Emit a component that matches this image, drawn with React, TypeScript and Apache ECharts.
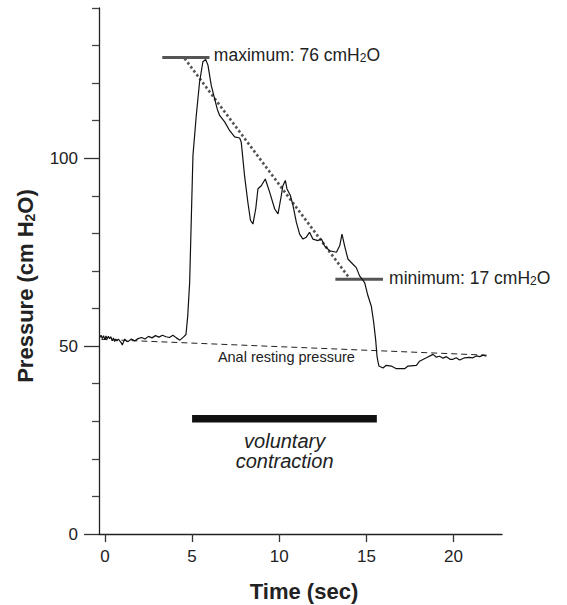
import React, { useEffect, useRef } from "react";
import * as echarts from "echarts";

// ---- Data ----
const timeSec = [
  -0.3, -0.22, -0.15, -0.08, 0.0, 0.06, 0.12, 0.2, 0.27, 0.34, 0.42, 0.49, 0.56, 0.62, 0.69, 0.77, 0.85,
  0.92, 1.0, 1.07, 1.14, 1.24, 1.33, 1.42, 1.52, 1.7, 1.9, 2.1, 2.3, 2.5, 2.7,
  2.9, 3.1, 3.3, 3.5, 3.7, 3.9, 4.1, 4.3, 4.5, 4.65, 4.75, 4.86, 4.96, 5.05, 5.24, 5.43, 5.62, 5.78, 5.91,
  6.1, 6.29, 6.45, 6.58, 6.87, 7.15, 7.44, 7.73, 7.82, 8.01, 8.2, 8.35, 8.49, 8.65, 8.78, 8.97, 9.2, 9.45,
  9.74, 9.93, 10.12, 10.21, 10.35, 10.44, 10.64, 10.79, 10.98, 11.17, 11.36, 11.55, 11.74, 11.93, 12.22,
  12.42, 12.6, 12.89, 13.28, 13.47, 13.6, 13.75, 13.94, 14.23, 14.42, 14.61, 14.9, 15.09, 15.28, 15.42,
  15.53, 15.61, 15.66, 15.72, 15.95, 16.14, 16.43, 16.72, 17.19, 17.39, 17.87, 18.05, 18.44, 18.82, 19.0,
  19.2, 19.4, 19.59, 19.8, 19.97, 20.15, 20.35, 20.64, 20.9, 21.11, 21.3, 21.5, 21.7, 21.88,
];
const pressure = [
  52.3, 52.9, 52.0, 52.8, 51.7, 52.7, 51.9, 52.6, 52.0, 52.5, 51.4, 52.2, 51.2, 51.9, 51.4, 51.9, 51.4,
  51.0, 50.3, 51.2, 51.9, 51.3, 51.2, 51.6, 51.9, 51.4, 52.0, 52.3, 51.9, 52.6, 52.2,
  52.8, 52.4, 52.9, 52.5, 52.3, 52.9, 52.2, 51.6, 52.4, 53.1, 58.0, 66.9, 84.7, 100.7, 111.4,
  120.3, 125.7, 126.3, 124.8, 119.4, 115.9, 113.0, 111.4, 109.7, 107.4, 105.7, 105.4, 104.3, 95.4, 88.3,
  83.5, 82.5, 86.5, 91.9, 92.7, 94.5, 91.0, 86.5, 85.2, 90.1, 92.7, 94.1, 91.9, 90.1, 87.4, 83.0, 79.8,
  78.5, 79.0, 80.3, 78.5, 78.1, 78.5, 76.7, 75.4, 75.0, 76.7, 79.8, 76.7, 73.2, 71.8, 70.9, 68.7, 66.9,
  63.4, 60.7, 56.3, 51.8, 47.3, 46.0, 44.7, 44.2, 44.9, 44.7, 44.0, 44.0, 44.7, 44.9, 46.0, 46.9, 47.8,
  47.1, 47.3, 46.8, 47.2, 46.5, 46.5, 46.9, 46.3, 46.9, 47.0, 46.9, 47.4, 47.2, 47.6, 47.3,
];

const xTickValues = [0, 5, 10, 15, 20];
const yMajorTicks = [0, 50, 100];
const yMinorTicks = [10, 20, 30, 40, 60, 70, 80, 90, 110, 120, 130, 140];

const maxLineX = [3.29, 6.0];
const maxLineY = [126.8, 126.8];
const minLineX = [13.22, 15.95];
const minLineY = [67.8, 67.8];
const slopeLineX = [4.57, 14.04];
const slopeLineY = [126.6, 68.0];
const restingLineX = [-0.2, 21.9];
const restingLineY = [51.8, 47.6];
const contractionX = [5.0, 15.6];
const contractionY = [30.7, 30.7];

const maxLabelPos = [6.25, 127.7];
const minLabelPos = [16.3, 68.4];
const restingLabelPos = [10.41, 47.0];
const contractionLabelPos = [10.31, 22.0];

const FONT = "'Liberation Sans', Arial, Helvetica, sans-serif";
const TEXT = "#222";

const zip = (xs: number[], ys: number[]) => xs.map((x, i) => [x, ys[i]]);

export default function App() {
  const ref = useRef<HTMLDivElement>(null);

  useEffect(() => {
    if (!ref.current) return;
    const chart = echarts.init(ref.current, null, { renderer: "svg" });
    const gridLeft = 99;
    const gridTop = 8;
    const gridWidth = 403;
    const gridHeight = 526;

    const lineSeries = (data: number[][], lineStyle: any, z = 2) => ({
      type: "line",
      data,
      showSymbol: false,
      symbol: "none",
      silent: true,
      z,
      lineStyle,
    });

    chart.setOption({
      animation: false,
      backgroundColor: "#fff",
      grid: { left: gridLeft, top: gridTop, width: gridWidth, height: gridHeight },
      xAxis: {
        type: "value",
        min: -0.34,
        max: 22.78,
        axisLine: { show: true, onZero: false, lineStyle: { color: "#222", width: 1.3 } },
        axisTick: { show: true, length: 8, customValues: xTickValues, lineStyle: { color: "#333", width: 1.3 } },
        axisLabel: {
          customValues: xTickValues,
          margin: 14,
          fontSize: 17,
          fontFamily: FONT,
          color: TEXT,
        },
        splitLine: { show: false },
      },
      yAxis: [
        {
          type: "value",
          min: 0,
          max: 140,
          position: "left",
          axisLine: { show: true, onZero: false, lineStyle: { color: "#222", width: 1.3 } },
          axisTick: { show: true, length: 15, customValues: yMajorTicks, lineStyle: { color: "#333", width: 1.3 } },
          axisLabel: { customValues: yMajorTicks, margin: 21, fontSize: 17, fontFamily: FONT, color: TEXT },
          splitLine: { show: false },
        },
        {
          type: "value",
          min: 0,
          max: 140,
          position: "left",
          offset: 0,
          axisLine: { show: false, onZero: false },
          axisTick: { show: true, length: 7, customValues: yMinorTicks, lineStyle: { color: "#444", width: 1.3 } },
          axisLabel: { show: false },
          splitLine: { show: false },
        },
      ],
      series: [
        lineSeries(zip(restingLineX, restingLineY), { color: "#222", width: 1, type: [6, 4] }, 2),
        lineSeries(zip(slopeLineX, slopeLineY), { color: "#555", width: 2.6, type: [2.5, 2.5] }, 2),
        lineSeries(zip(maxLineX, maxLineY), { color: "#555", width: 3 }, 2),
        lineSeries(zip(minLineX, minLineY), { color: "#555", width: 3 }, 2),
        lineSeries(zip(contractionX, contractionY), { color: "#111", width: 7.5 }, 2),
        lineSeries(zip(timeSec, pressure), { color: "#111", width: 1.2 }, 4),
      ],
    });

    const px = (p: number[]) => chart.convertToPixel({ xAxisIndex: 0, yAxisIndex: 0 }, p) as number[];
    const maxP = px(maxLabelPos);
    const minP = px(minLabelPos);
    const restP = px(restingLabelPos);
    const conP = px(contractionLabelPos);

    const subRich = (size: number, subSize: number, weight: string) => ({
      a: { fontSize: size, fontFamily: FONT, fontWeight: weight, fill: TEXT, color: TEXT, lineHeight: size + 3, verticalAlign: "bottom" },
      s: { fontSize: subSize, fontFamily: FONT, fontWeight: weight, fill: TEXT, color: TEXT, lineHeight: Math.round(size * 0.4), verticalAlign: "bottom" },
    });

    chart.setOption({
      graphic: [
        {
          type: "text",
          x: maxP[0],
          y: maxP[1],
          silent: true,
          style: {
            text: "{a|maximum: 76 cmH}{s|2}{a|O}",
            rich: subRich(17.5, 12, "normal"),
            align: "left",
            verticalAlign: "middle",
          },
        },
        {
          type: "text",
          x: minP[0],
          y: minP[1],
          silent: true,
          style: {
            text: "{a|minimum: 17 cmH}{s|2}{a|O}",
            rich: subRich(17.5, 12, "normal"),
            align: "left",
            verticalAlign: "middle",
          },
        },
        {
          type: "text",
          x: restP[0],
          y: restP[1],
          silent: true,
          style: {
            text: "Anal resting pressure",
            fontSize: 14.5,
            fontFamily: FONT,
            fill: TEXT,
            align: "center",
            verticalAlign: "middle",
          },
        },
        {
          type: "text",
          x: conP[0],
          y: conP[1],
          silent: true,
          style: {
            text: "voluntary\ncontraction",
            fontSize: 20,
            fontStyle: "italic",
            fontFamily: FONT,
            lineHeight: 20,
            fill: TEXT,
            align: "center",
            verticalAlign: "middle",
          },
        },
        {
          type: "text",
          x: 304,
          y: 591,
          silent: true,
          style: {
            text: "Time (sec)",
            fontSize: 22,
            fontWeight: "bold",
            fontFamily: FONT,
            fill: TEXT,
            align: "center",
            verticalAlign: "middle",
          },
        },
        {
          type: "text",
          x: 24,
          y: 286,
          rotation: Math.PI / 2,
          silent: true,
          style: {
            text: "{a|Pressure (cm H}{s|2}{a|O)}",
            rich: subRich(22, 14, "bold"),
            align: "center",
            verticalAlign: "middle",
          },
        },
      ],
    });

    return () => chart.dispose();
  }, []);

  return (
    <div
      ref={ref}
      style={{ position: "absolute", left: 0, top: 0, width: 567, height: 605, background: "#fff" }}
    />
  );
}
